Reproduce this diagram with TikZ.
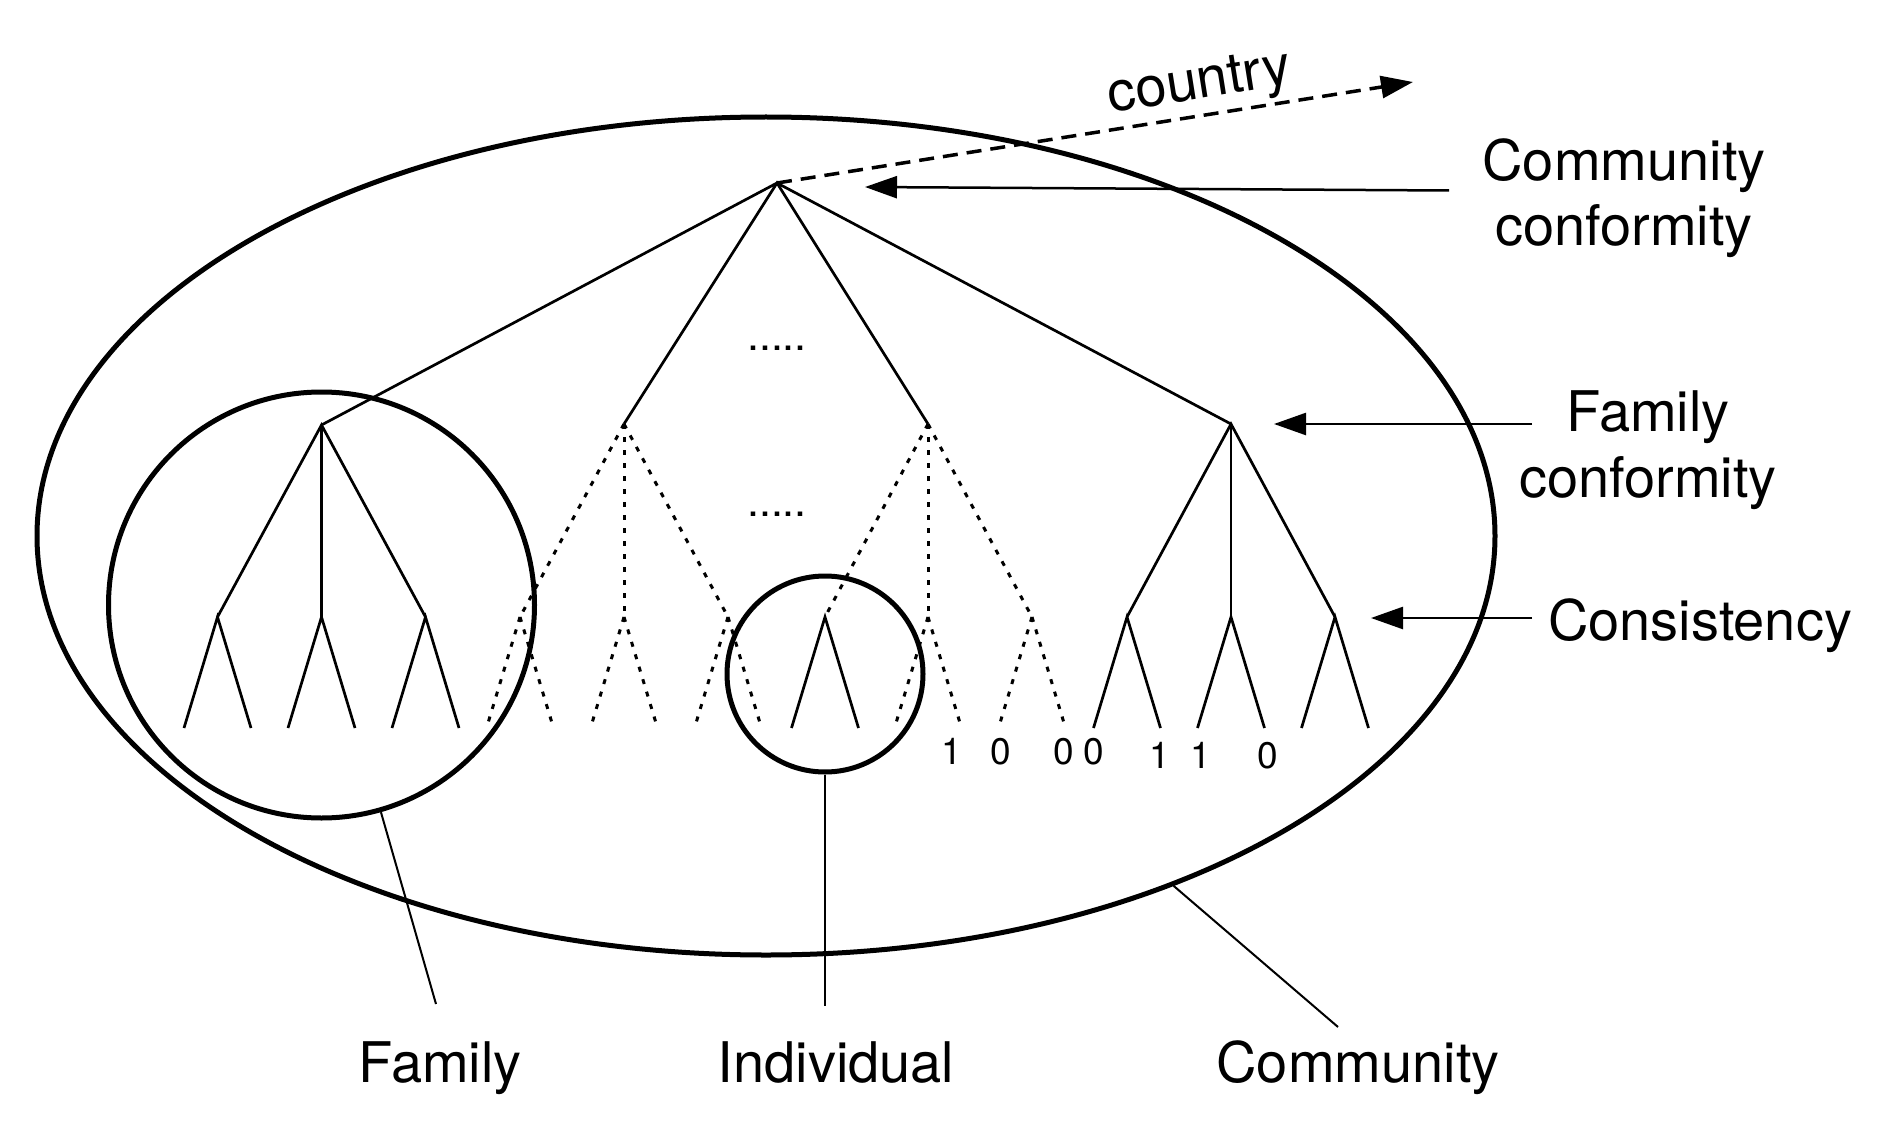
\documentclass[tikz,border=0pt]{standalone}
\usepackage{fontspec}
\setmainfont{TeX Gyre Heros}
\usetikzlibrary{arrows.meta,shapes.geometric}
\begin{document}
\begin{tikzpicture}[x=1pt,y=-1pt,
  tree/.style={line width=2.7pt},
  dotline/.style={line width=3pt, dash pattern=on 5pt off 8pt},
  ring/.style={draw, line width=5pt, inner sep=0pt},
  lead/.style={line width=2pt},
  arr/.style={line width=2.5pt, -{Triangle[length=32pt,width=22pt]}},
  lbl/.style={font=\fontsize{56}{65.5}\selectfont, inner sep=0pt},
  digit/.style={font=\fontsize{37}{42}\selectfont, inner sep=0pt, anchor=base},
  dots/.style={font=\fontsize{43}{48}\selectfont, inner sep=0pt, anchor=base}]
\useasboundingbox (0,0) rectangle (1890,1126);

% enclosing shapes
\node[ring, ellipse, minimum width=1458pt, minimum height=838pt] (comm) at (766,536) {};
\node[ring, circle, minimum size=426pt] (famc) at (321.5,605) {};
\node[ring, circle, minimum size=196pt] (indc) at (825,674) {};

% tree vertices
\coordinate (r) at (777,183);
\coordinate (f1) at (321.5,425);
\coordinate (f2) at (624,424);
\coordinate (f3) at (928,424);
\coordinate (f4) at (1231,424);
\coordinate (f1a) at (217.5,617); \coordinate (f1b) at (321.5,617); \coordinate (f1c) at (425.5,617);
\coordinate (f2a) at (520,617);   \coordinate (f2b) at (624,617);   \coordinate (f2c) at (728,617);
\coordinate (f3a) at (825,617);   \coordinate (f3b) at (928,617);   \coordinate (f3c) at (1032,617);
\coordinate (f4a) at (1127,617);  \coordinate (f4b) at (1231,617);  \coordinate (f4c) at (1335,617);

% top level
\draw[tree] (f1) -- (r) -- (f4);
\draw[tree] (f2) -- (r) -- (f3);

% solid families
\draw[tree] (f1a) -- (f1) -- (f1c);
\draw[tree] (f1) -- (f1b);
\draw[tree] (f4a) -- (f4) -- (f4c);
\draw[tree] (f4) -- (f4b);

% dotted families
\foreach \c in {f2a,f2b,f2c} \draw[dotline] (f2) -- (\c);
\foreach \c in {f3a,f3b,f3c} \draw[dotline] (f3) -- (\c);

% leaves: solid
\foreach \x in {217.5,321.5,425.5,825,1127,1231,1335}
  \draw[tree] (\x-33.5,728) -- (\x,617) -- (\x+33.5,728);
% leaves: dotted
\foreach \x in {520,624,728,928,1032} {
  \draw[dotline] (\x,617) -- (\x-33.5,728);
  \draw[dotline] (\x,617) -- (\x+33.5,728);
}

% ellipsis dots
\node[dots] (d1) at (777,350) {.....};
\node[dots] (d2) at (777,516) {.....};

% digits
\node[digit] (n1) at (952,764) {1};
\node[digit] (n2) at (1001,764) {0};
\node[digit] (n3) at (1064,764) {0};
\node[digit] (n4) at (1094,764) {0};
\node[digit] (n5) at (1160,768) {1};
\node[digit] (n6) at (1201,768) {1};
\node[digit] (n7) at (1268,768) {0};

% country arrow
\coordinate (ctip) at (1413,82);
\draw[arr, line width=3.5pt, dash pattern=on 15pt off 9pt] (r) -- (ctip);
\node[lbl, anchor=base, rotate=9] (ctry) at (1202,98) {country};

% right labels and arrows
\node[lbl, align=center] (cclbl) at (1624,198) {Community\\conformity};
\node[lbl, align=center] (fclbl) at (1648,450) {Family\\conformity};
\node[lbl, anchor=base] (conlbl) at (1700,640) {Consistency};
\coordinate (ccs) at (1449,190.5); \coordinate (cct) at (865,187);
\coordinate (fcs) at (1532,424);   \coordinate (fct) at (1274,424);
\coordinate (cos) at (1532,618);   \coordinate (cot) at (1371,618);
\draw[arr] (ccs) -- (cct);
\draw[arr] (fcs) -- (fct);
\draw[arr] (cos) -- (cot);

% bottom labels and leaders
\node[lbl, anchor=base] (famlbl) at (440,1082) {Family};
\node[lbl, anchor=base] (indlbl) at (836,1082) {Individual};
\node[lbl, anchor=base] (comlbl) at (1358,1082) {Community};
\coordinate (famend) at (436,1004);
\coordinate (indend) at (825,1006);
\coordinate (comend) at (1338,1027);
\draw[lead] (famc) -- (famend);
\draw[lead] (indc) -- (indend);
\draw[lead] (comm) -- (comend);
\end{tikzpicture}
\end{document}
